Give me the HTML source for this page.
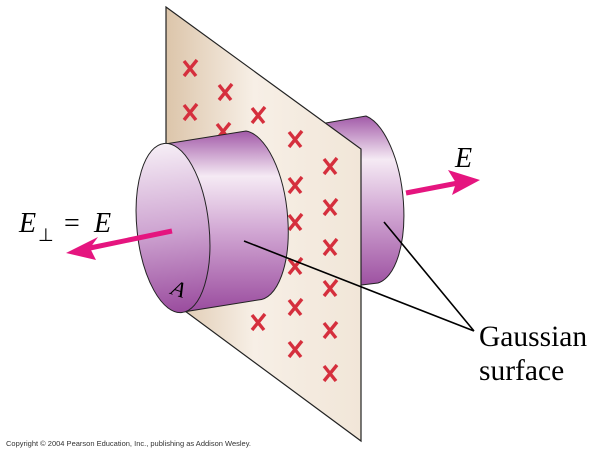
<!DOCTYPE html>
<html><head><meta charset="utf-8"><style>
html,body{margin:0;padding:0;background:#fff;width:602px;height:452px;overflow:hidden}
svg{display:block}
text{font-family:"Liberation Serif",serif}
</style></head><body>
<svg width="602" height="452" viewBox="0 0 602 452" xmlns="http://www.w3.org/2000/svg">
<defs>
<linearGradient id="plane" x1="0" y1="0" x2="1" y2="0">
<stop offset="0" stop-color="#dcc5aa"/><stop offset="0.45" stop-color="#f7efe6"/><stop offset="1" stop-color="#f1e6d8"/>
</linearGradient>
<linearGradient id="body" x1="0" y1="0" x2="0" y2="1">
<stop offset="0" stop-color="#a25aa8"/><stop offset="0.25" stop-color="#f5eaf4"/><stop offset="0.55" stop-color="#d2a8d4"/><stop offset="1" stop-color="#9a4c9e"/>
</linearGradient>
<linearGradient id="face" x1="0" y1="0" x2="0" y2="1">
<stop offset="0" stop-color="#f6eef6"/><stop offset="0.5" stop-color="#cfa6d2"/><stop offset="1" stop-color="#9a4c9e"/>
</linearGradient>
<g id="p"><path d="M-6,-7 L6,8 M7,-8 L-6,8" stroke="#d52f3d" stroke-width="3.4" fill="none"/></g>
</defs>
<path d="M320,124 L366,116 A37,85 -6 0 1 378,283 L320,290 Z" fill="url(#body)" stroke="#222" stroke-width="1"/>
<polygon points="166,7 361,149 361,441 166,297" fill="url(#plane)" stroke="#222" stroke-width="1.2"/>
<g>
<use href="#p" x="190" y="68"/><use href="#p" x="225" y="92"/><use href="#p" x="190" y="112"/>
<use href="#p" x="258" y="115"/><use href="#p" x="223" y="131"/><use href="#p" x="295" y="139"/>
<use href="#p" x="330" y="166"/><use href="#p" x="295" y="185"/><use href="#p" x="330" y="207"/>
<use href="#p" x="295" y="222"/><use href="#p" x="330" y="247"/><use href="#p" x="295" y="266"/>
<use href="#p" x="330" y="288"/><use href="#p" x="295" y="307"/><use href="#p" x="258" y="322"/>
<use href="#p" x="330" y="330"/><use href="#p" x="295" y="349"/><use href="#p" x="330" y="373"/>
</g>
<path d="M406,193 L458,183" stroke="#e5157f" stroke-width="5"/>
<path d="M480,180 L448,170 L456,183 L452,195 Z" fill="#e5157f"/>
<path d="M165,144 L246,131 A37,85 -6 0 1 258,300 L183,312 Z" fill="url(#body)" stroke="#222" stroke-width="1"/>
<ellipse cx="173" cy="228" rx="36" ry="85" transform="rotate(-6 173 228)" fill="url(#face)" stroke="#222" stroke-width="1"/>
<text x="172" y="296" font-size="22" font-style="italic" transform="rotate(18 178 288)">A</text>
<path d="M172,231 L90,248" stroke="#e5157f" stroke-width="5"/>
<path d="M66,253 L98,237 L90,248 L96,260 Z" fill="#e5157f"/>
<path d="M244,241 L474,331 M384,222 L474,331" stroke="#000" stroke-width="1.6" fill="none"/>
<text x="19" y="232" font-size="28" font-style="italic">E</text>
<text x="38" y="241" font-size="18">⊥</text>
<text x="64" y="232" font-size="28">=</text>
<text x="94" y="232" font-size="28" font-style="italic">E</text>
<text x="455" y="167" font-size="28" font-style="italic">E</text>
<text x="479" y="346" font-size="29.5">Gaussian</text>
<text x="479" y="380" font-size="29.5">surface</text>
<text x="6" y="446" font-size="7.5" fill="#333" style="font-family:'Liberation Sans',sans-serif">Copyright © 2004 Pearson Education, Inc., publishing as Addison Wesley.</text>
</svg>
</body></html>
